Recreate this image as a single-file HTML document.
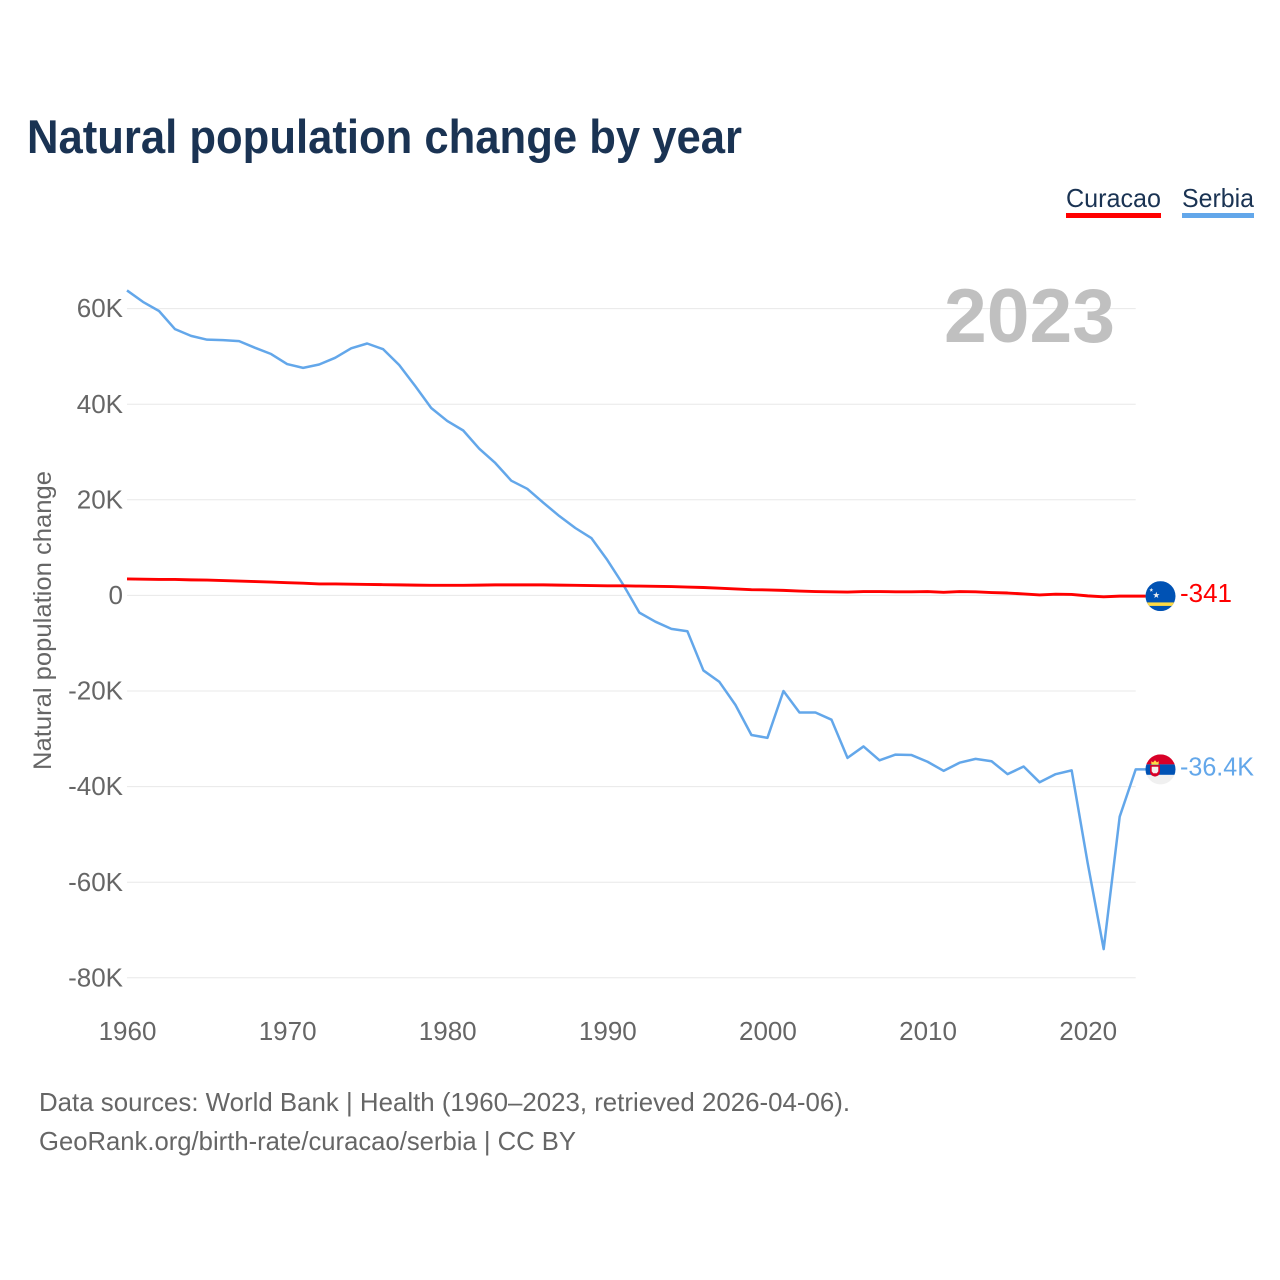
<!DOCTYPE html>
<html lang="en">
<head>
<meta charset="utf-8">
<title>Natural population change by year</title>
<style>
  html, body { margin: 0; padding: 0; background: #fff; }
  svg { display: block; }
  text { font-family: "Liberation Sans", sans-serif; }
</style>
</head>
<body>
<svg id="chart" xmlns="http://www.w3.org/2000/svg" width="1280" height="1280" viewBox="0 0 1280 1280">
  <rect width="1280" height="1280" fill="#ffffff"/>
  <text x="27" y="153" font-size="47" font-weight="700" fill="#1a3353" textLength="715" lengthAdjust="spacingAndGlyphs">Natural population change by year</text>

  <g>
    <text x="1066" y="207" font-size="26" fill="#1a3353" textLength="95" lengthAdjust="spacingAndGlyphs">Curacao</text>
    <rect x="1066" y="213" width="95" height="5" fill="#ff0000"/>
  </g>
  <g>
    <text x="1182" y="207" font-size="26" fill="#1a3353" textLength="72" lengthAdjust="spacingAndGlyphs">Serbia</text>
    <rect x="1182" y="213" width="72" height="5" fill="#63a7ea"/>
  </g>

  <text transform="translate(51,770) rotate(-90)" font-size="25" fill="#666666" textLength="299" lengthAdjust="spacingAndGlyphs">Natural population change</text>

  <g id="grid"></g>
  <g id="yticks"></g>
  <g id="xticks"></g>

  <text x="944" y="342" font-size="76" font-weight="700" fill="#c0c0c0" textLength="171" lengthAdjust="spacingAndGlyphs">2023</text>

  <g id="series"></g>

  <g id="flag-curacao">
    <clipPath id="clip-cw"><circle cx="0" cy="0" r="15"/></clipPath>
    <g clip-path="url(#clip-cw)">
      <rect x="-15" y="-15" width="30" height="30" fill="#0052b4"/>
      <rect x="-15" y="6.3" width="30" height="3.5" fill="#ffda44"/>
    </g>
    <polygon points="-4.2,-4.4 -3.4,-2 -0.9,-2 -2.9,-0.5 -2.2,1.9 -4.2,0.5 -6.2,1.9 -5.5,-0.5 -7.5,-2 -5,-2" fill="#f0f0f0"/>
    <polygon points="-9.2,-8.2 -8.7,-6.8 -7.2,-6.8 -8.4,-5.9 -8,-4.4 -9.2,-5.3 -10.4,-4.4 -10,-5.9 -11.2,-6.8 -9.7,-6.8" fill="#f0f0f0"/>
  </g>
  <g id="flag-serbia">
    <clipPath id="clip-rs"><circle cx="0" cy="0" r="15"/></clipPath>
    <g clip-path="url(#clip-rs)">
      <rect x="-15" y="-15" width="30" height="10" fill="#d80027"/>
      <rect x="-15" y="-5" width="30" height="10.5" fill="#0052b4"/>
      <rect x="-15" y="5.5" width="30" height="10" fill="#f0f0f0"/>
    </g>
    <path d="M-10.5,-4.3 h10 v6.5 a5,5 0 0 1 -10,0 z" fill="#d80027"/>
    <path d="M-8.8,-2.6 h6.6 v4.4 l-1.5,2 h-3.6 l-1.5,-2 z" fill="#f5eeee"/>
    <polygon points="-9,-4.7 -9.3,-8.2 -7.4,-7 -5.5,-9.2 -3.6,-7 -1.7,-8.2 -2,-4.7" fill="#ffda44"/>
  </g>

  <text id="value-curacao" x="1180" font-size="26" fill="#ff0000" textLength="52" lengthAdjust="spacingAndGlyphs"></text>
  <text id="value-serbia" x="1180" font-size="26" fill="#63a7ea" textLength="74" lengthAdjust="spacingAndGlyphs"></text>

  <text x="39" y="1111" font-size="26" fill="#666666" textLength="811" lengthAdjust="spacingAndGlyphs">Data sources: World Bank | Health (1960–2023, retrieved 2026-04-06).</text>
  <text x="39" y="1150" font-size="26" fill="#666666" textLength="537" lengthAdjust="spacingAndGlyphs">GeoRank.org/birth-rate/curacao/serbia | CC BY</text>
</svg>
<script>
const startYear = 1960;
const yTickValues = [60, 40, 20, 0, -20, -40, -60, -80];
const yTickLabels = ["60K", "40K", "20K", "0", "-20K", "-40K", "-60K", "-80K"];
const xTickValues = [1960, 1970, 1980, 1990, 2000, 2010, 2020];
const xTickLabels = ["1960", "1970", "1980", "1990", "2000", "2010", "2020"];
const serbiaValues = [63.8, 61.4, 59.5, 55.7, 54.3, 53.5, 53.4, 53.2, 51.8, 50.5,
  48.4, 47.6, 48.3, 49.7, 51.7, 52.7, 51.5, 48.2, 43.8, 39.2,
  36.5, 34.5, 30.7, 27.7, 24.0, 22.3, 19.4, 16.6, 14.1, 12.0,
  7.4, 2.2, -3.6, -5.5, -7.0, -7.5, -15.7, -18.1, -22.9, -29.2,
  -29.8, -20.0, -24.5, -24.5, -26.0, -34.0, -31.6, -34.5, -33.3, -33.4,
  -34.8, -36.7, -35.0, -34.2, -34.7, -37.4, -35.8, -39.1, -37.4, -36.6,
  -56.0, -74.0, -46.3, -36.4];
const curacaoValues = [3.45, 3.4, 3.35, 3.35, 3.25, 3.2, 3.1, 3.0, 2.9, 2.8,
  2.65, 2.55, 2.4, 2.4, 2.35, 2.3, 2.25, 2.2, 2.15, 2.1,
  2.1, 2.1, 2.15, 2.2, 2.2, 2.2, 2.2, 2.15, 2.1, 2.05,
  2.0, 2.0, 1.95, 1.9, 1.85, 1.75, 1.65, 1.5, 1.35, 1.2,
  1.15, 1.05, 0.9, 0.8, 0.75, 0.7, 0.8, 0.8, 0.75, 0.75,
  0.8, 0.65, 0.8, 0.75, 0.6, 0.5, 0.3, 0.1, 0.25, 0.2,
  -0.1, -0.3, -0.15, -0.15];
const curacaoLabel = "-341";
const serbiaLabel = "-36.4K";

const NS = "http://www.w3.org/2000/svg";
const xScale = function (year) { return 127 + (year - 1960) * (1008.7 / 63); };
const yScale = function (v) { return 595.4 - v * 4.78; };

const grid = document.getElementById("grid");
const yticks = document.getElementById("yticks");
const xticks = document.getElementById("xticks");
const series = document.getElementById("series");

yTickValues.forEach(function (v, i) {
  const line = document.createElementNS(NS, "line");
  
  
  line.setAttribute("x1", xScale(1960));
  line.setAttribute("x2", xScale(2023));
  line.setAttribute("y1", yScale(v));
  line.setAttribute("y2", yScale(v));
  line.setAttribute("stroke", "#e8e8e8");
  line.setAttribute("stroke-width", "1");
  grid.appendChild(line);

  const t = document.createElementNS(NS, "text");
  
  
  t.setAttribute("x", 123);
  t.setAttribute("y", yScale(v) + 8.6);
  t.setAttribute("text-anchor", "end");
  t.setAttribute("font-size", "26");
  t.setAttribute("fill", "#666666");
  t.textContent = yTickLabels[i];
  yticks.appendChild(t);
});

xTickValues.forEach(function (year, i) {
  const t = document.createElementNS(NS, "text");
  
  
  t.setAttribute("x", xScale(year) + 0.5);
  t.setAttribute("y", 1040);
  t.setAttribute("text-anchor", "middle");
  t.setAttribute("font-size", "26");
  t.setAttribute("fill", "#666666");
  t.textContent = xTickLabels[i];
  xticks.appendChild(t);
});

function pointsFor(values) {
  const pts = values.map(function (v, i) {
    return xScale(startYear + i).toFixed(2) + "," + yScale(v).toFixed(2);
  });
  const last = values[values.length - 1];
  pts.push((xScale(startYear + values.length - 1) + 10).toFixed(2) + "," + yScale(last).toFixed(2));
  return pts.join(" ");
}

const serbiaLine = document.createElementNS(NS, "polyline");


serbiaLine.setAttribute("points", pointsFor(serbiaValues));
serbiaLine.setAttribute("fill", "none");
serbiaLine.setAttribute("stroke", "#63a7ea");
serbiaLine.setAttribute("stroke-width", "2.5");
serbiaLine.setAttribute("stroke-linejoin", "round");
series.appendChild(serbiaLine);

const curacaoLine = document.createElementNS(NS, "polyline");


curacaoLine.setAttribute("points", pointsFor(curacaoValues));
curacaoLine.setAttribute("fill", "none");
curacaoLine.setAttribute("stroke", "#ff0000");
curacaoLine.setAttribute("stroke-width", "2.9");
curacaoLine.setAttribute("stroke-linejoin", "round");
series.appendChild(curacaoLine);

const endC = yScale(curacaoValues[curacaoValues.length - 1]);
const endS = yScale(serbiaValues[serbiaValues.length - 1]);
document.getElementById("flag-curacao").setAttribute("transform", "translate(1160.5," + endC + ")");
document.getElementById("flag-serbia").setAttribute("transform", "translate(1160.5," + endS + ")");
const vc = document.getElementById("value-curacao");
vc.setAttribute("y", endC + 6);
vc.textContent = curacaoLabel;
const vs = document.getElementById("value-serbia");
vs.setAttribute("y", endS + 6);
vs.textContent = serbiaLabel;
</script>
</body>
</html>
